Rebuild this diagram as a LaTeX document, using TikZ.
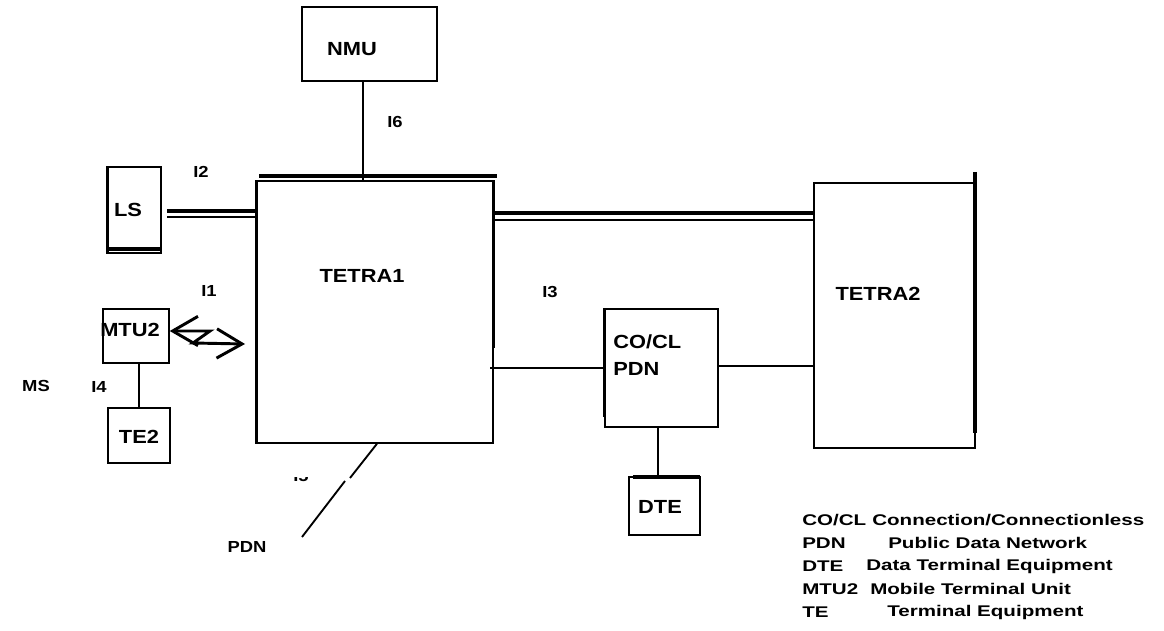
\documentclass[tikz,border=0pt]{standalone}
\usepackage{fontspec}
\setmainfont{Liberation Sans}
\newfontfamily\labfont[FakeStretch=1.15]{Liberation Sans}
\newfontfamily\legfont[FakeStretch=1.33]{Liberation Sans}
\usetikzlibrary{fit,arrows.meta}
\begin{document}
\begin{tikzpicture}[x=0.75pt,y=-0.75pt,
  box/.style={draw,line width=1.1pt,inner sep=0pt},
  heavy/.style={line width=2.3pt},
  wire/.style={line width=1.1pt},
  lab/.style={font=\labfont\bfseries\fontsize{14.25}{17}\selectfont,inner sep=0pt},
  ilab/.style={font=\labfont\bfseries\fontsize{12}{14}\selectfont,inner sep=0pt},
  leg/.style={font=\legfont\bfseries\fontsize{11.6}{13}\selectfont,inner sep=0pt,anchor=west},
  barb/.style={line width=2.2pt,{Straight Barb[length=19pt,width=22pt]}-{Straight Barb[length=19pt,width=22pt]}}]
\fill[white] (0,0) rectangle (1164,631);
\useasboundingbox (0,0) rectangle (1164,631);

% boxes
\node[box,fit={(302,7) (437,81)}] (NMU) {};
\node[box,fit={(257,181) (493,443)}] (T1) {};
\node[box,fit={(108,167) (161,253)}] (LS) {};
\node[box,fit={(814,183) (975,448)}] (T2) {};
\node[box,fit={(605,309) (718,427)}] (CO) {};
\node[box,fit={(629,477) (700,535)}] (DTE) {};
\node[box,fit={(103,309) (169,363)}] (MTU) {};
\node[box,fit={(108,408) (170,463)}] (TE) {};

% heavy edges
\draw[heavy] (T1.north west) -- (T1.south west);
\draw[heavy] (T1.north east) -- (T1.east |- 0,348);
\draw[heavy] (259,176) -- (497,176);
\draw[heavy] (LS.north west) -- (LS.south west);
\draw[heavy] (LS.south west |- 0,249) -- (LS.south east |- 0,249);
\draw[heavy] (975,172) -- (975,433);
\draw[heavy] (CO.north west) -- (CO.west |- 0,417);
\draw[heavy] (633,477) -- (700,477);

% labels in boxes
\node[lab] (NMUt) at (352,49) {NMU};
\node[lab] (T1t) at (362,276) {TETRA1};
\node[lab] (T2t) at (878,294) {TETRA2};
\node[lab] (LSt) at (128,210) {LS};
\node[lab,anchor=west] (COt) at (613,342) {CO/CL};
\node[lab,anchor=west] (PDNt) at (613,369) {PDN};
\node[lab] (DTEt) at (660,507) {DTE};
\node[lab] (MTUt) at (130,330) {MTU2};
\node[lab] (TEt) at (139,437) {TE2};

% connectors
\draw[wire] (NMU.south -| 363,0) -- (T1.north -| 363,0);
\draw[heavy] (167,211) -- (T1.west |- 0,211);
\draw[wire] (167,217) -- (T1.west |- 0,217);
\draw[heavy] (T1.east |- 0,213) -- (T2.west |- 0,213);
\draw[wire] (T1.east |- 0,220) -- (T2.west |- 0,220);
\draw[wire] (490,368) -- (CO.west |- 0,368);
\draw[wire] (CO.east |- 0,366) -- (T2.west |- 0,366);
\draw[wire] (CO.south -| 658,0) -- (DTE.north -| 658,0);
\draw[wire] (MTU.south -| 139,0) -- (TE.north -| 139,0);

% radio link
\coordinate (rad) at (245,344);
\draw[barb] (MTU.east |- 0,331) -- (210,331) -- (193,343) -- (rad);

% PDN line with gap
\coordinate (g1) at (350,478);
\coordinate (g2) at (345,481);
\coordinate (pdnend) at (302,537);
\draw[wire,line width=1.4pt] (T1.south -| 377,0) -- (g1);
\draw[wire,line width=1.4pt] (g2) -- (pdnend);

% interface labels
\node[ilab] (I1) at (209,291) {I1};
\node[ilab] (I2) at (201,172) {I2};
\node[ilab] (I3) at (550,292) {I3};
\node[ilab] (I4) at (99,387) {I4};
\node[ilab] (I6) at (395,122) {I6};
\node[ilab] (MS) at (36,386) {MS};
\begin{scope}
\clip (280,477) rectangle (325,495);
\node[ilab] (I5) at (301,476) {I5};
\end{scope}
\node[ilab] (PDNl) at (247,547) {PDN};

% legend
\node[leg] (k1) at (802,520) {CO/CL};
\node[leg] (d1) at (872,520) {Connection/Connectionless};
\node[leg] (k2) at (802,543) {PDN};
\node[leg] (d2) at (888,543) {Public Data Network};
\node[leg] (k3) at (802,566) {DTE};
\node[leg] (d3) at (866,566) {Data Terminal Equipment};
\node[leg] (k4) at (802,589) {MTU2};
\node[leg] (d4) at (870,589) {Mobile Terminal Unit};
\node[leg] (k5) at (802,612) {TE};
\node[leg] (d5) at (887,612) {Terminal Equipment};
\end{tikzpicture}
\end{document}
